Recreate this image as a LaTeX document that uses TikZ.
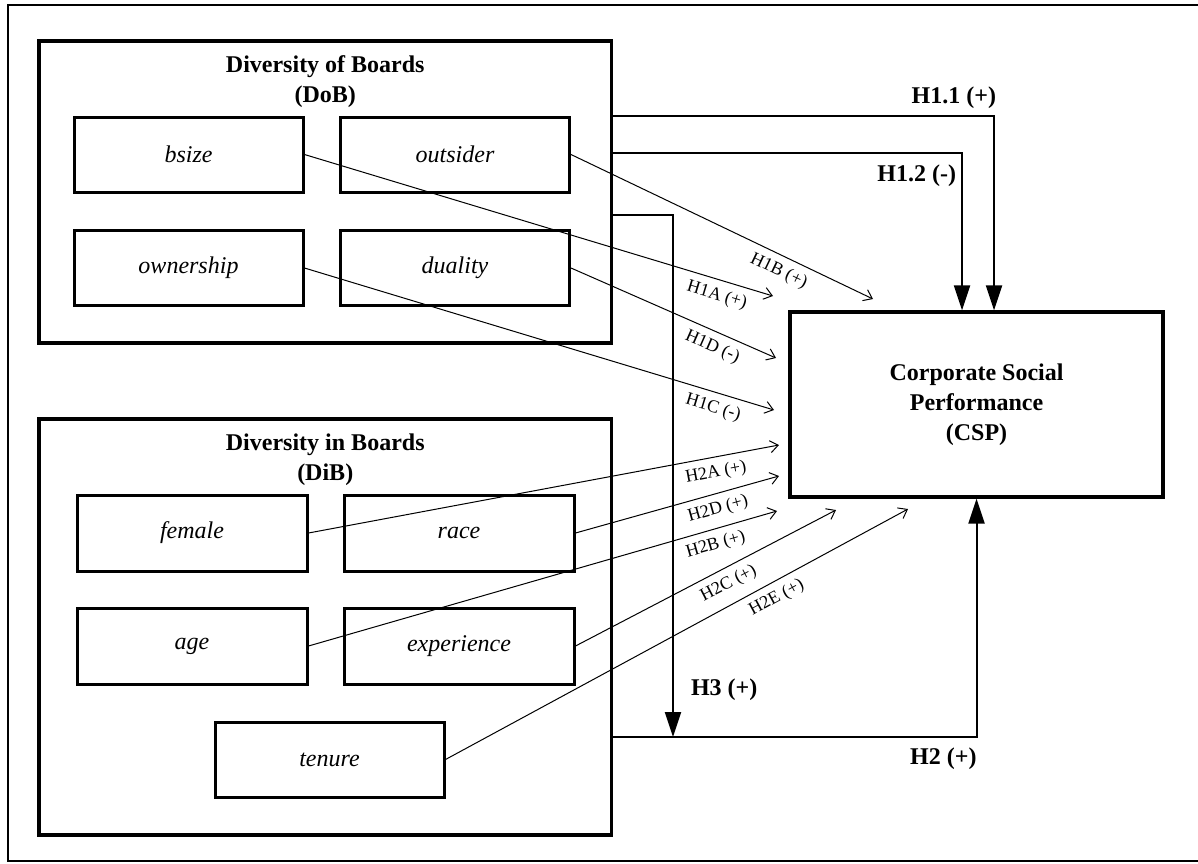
\documentclass[tikz,border=0pt]{standalone}
\usepackage{fontspec}
\setmainfont{Liberation Serif}
\usetikzlibrary{arrows.meta}

\begin{document}
\begin{tikzpicture}[x=1pt, y=-1pt,
  every node/.style={font=\fontsize{24}{30}\selectfont},
  group/.style={draw, line width=3.2pt, minimum width=572.5pt, inner sep=0pt},
  grouptitle/.style={anchor=north, align=center, inner sep=0pt,
    font=\fontsize{24}{30}\selectfont\bfseries},
  var/.style={draw, line width=3pt, minimum width=229pt, minimum height=75pt,
    inner sep=0pt, font=\fontsize{24}{30}\selectfont\itshape},
  outcome/.style={draw, line width=3.2pt, minimum width=373pt, minimum height=185pt,
    align=center, font=\fontsize{24}{30}\selectfont\bfseries},
  link/.style={line width=1pt, -{Straight Barb[length=8pt, width=12pt]}},
  linklabel/.style={font=\fontsize{18}{20}\selectfont, sloped, below=6pt, inner sep=1pt},
  path/.style={line width=2pt, -{Triangle[length=25pt, width=16pt]}},
  pathlabel/.style={inner sep=0pt, font=\fontsize{24}{30}\selectfont\bfseries}
]
\useasboundingbox (0,0) rectangle (1198,863);

% outer frame (its right side runs just past the page edge)
\draw[line width=2pt] (8,5) rectangle (1201,861);

% diversity of boards
\node[group, minimum height=302pt] (dob) at (325.25,192) {};
\node[grouptitle] (dobtitle) at (325.25,55.5) {Diversity of Boards\\(DoB)};
\node[var] (bsize)     at (188.5,154.5) {bsize};
\node[var] (outsider)  at (455,154.5)   {outsider};
\node[var] (ownership) at (188.5,268)   {ownership};
\node[var] (duality)   at (455,268)     {duality};

% diversity in boards
\node[group, minimum height=416pt] (dib) at (325.25,627) {};
\node[grouptitle] (dibtitle) at (325.25,433.5) {Diversity in Boards\\(DiB)};
\node[var, minimum width=230pt, minimum height=76pt] (female)     at (192,533)   {female};
\node[var, minimum width=230pt, minimum height=76pt] (race)       at (459,533)   {race};
\node[var, minimum width=230pt, minimum height=76pt] (age)        at (192,646)   {age};
\node[var, minimum width=230pt, minimum height=76pt] (experience) at (459,646)   {experience};
\node[var] (tenure) at (329.5,759.5) {tenure};

% outcome
\node[outcome] (csp) at (976.5,404.5) {Corporate Social\\Performance\\(CSP)};

% free ends of the single-variable hypotheses
\coordinate (e1a) at (773,296);
\coordinate (e1b) at (873,299);
\coordinate (e1d) at (776,358);
\coordinate (e1c) at (774,410);
\coordinate (e2a) at (779,445);
\coordinate (e2d) at (779,476);
\coordinate (e2b) at (777,511);
\coordinate (e2c) at (836,510);
\coordinate (e2e) at (908,509);

\draw[link] (bsize.east)      -- node[linklabel, pos=0.89] {H1A (+)} (e1a);
\draw[link] (outsider.east)   -- node[linklabel, pos=0.71] {H1B (+)} (e1b);
\draw[link] (duality.east)    -- node[linklabel, pos=0.72] {H1D (-)} (e1d);
\draw[link] (ownership.east)  -- node[linklabel, pos=0.88] {H1C (-)} (e1c);
\draw[link] (female.east)     -- node[linklabel, pos=0.86] {H2A (+)} (e2a);
\draw[link] (race.east)       -- node[linklabel, pos=0.68] {H2D (+)} (e2d);
\draw[link] (age.east)        -- node[linklabel, pos=0.86] {H2B (+)} (e2b);
\draw[link] (experience.east) -- node[linklabel, pos=0.56] {H2C (+)} (e2c);
\draw[link] (tenure.east)     -- node[linklabel, pos=0.70] {H2E (+)} (e2e);

% group-level hypotheses
\draw[path] (dob.east |- 0,116) -| node[pathlabel, pos=0.5, anchor=south east, xshift=3pt, yshift=6pt] {H1.1 (+)} ([xshift=17.5pt]csp.north);
\draw[path] (dob.east |- 0,153) -| node[pathlabel, pos=0.5, anchor=north east, xshift=-5pt, yshift=-10.5pt] {H1.2 (-)} ([xshift=-14.5pt]csp.north);
\coordinate (h3end) at (673,737);
\draw[path] (dob.east |- 0,215) -| node[pathlabel, pos=1, anchor=base west, xshift=17pt, yshift=42pt] {H3 (+)} (h3end);
\draw[path] (dib.east |- 0,737) -| node[pathlabel, pos=0.5, anchor=north east, xshift=1pt, yshift=-9.5pt] {H2 (+)} (csp.south);
\end{tikzpicture}
\end{document}
